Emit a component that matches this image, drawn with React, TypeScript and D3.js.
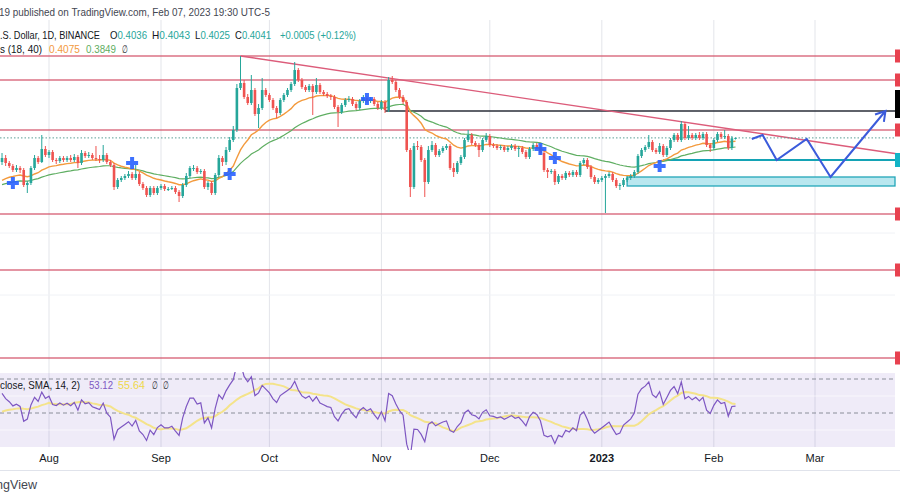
import React from "react";
import * as d3 from "d3";

const W = 900;
const H = 500;
const DAY = 86400000;

// Daily candles from 2022-07-19 to 2023-02-07
const firstDate = Date.UTC(2022, 6, 19);
const firstOpen = 0.38;
const closes = [
  0.384, 0.379, 0.376, 0.372, 0.374, 0.372, 0.357, 0.359, 0.374, 0.384,
  0.38, 0.393, 0.387, 0.39, 0.382, 0.381, 0.384, 0.382, 0.384, 0.382,
  0.385, 0.379, 0.389, 0.386, 0.387, 0.384, 0.383, 0.382, 0.387, 0.38,
  0.377, 0.355, 0.362, 0.364, 0.366, 0.368, 0.364, 0.368, 0.358, 0.354,
  0.347, 0.354, 0.349, 0.354, 0.356, 0.353, 0.353, 0.354, 0.35, 0.346,
  0.357, 0.366, 0.374, 0.374, 0.37, 0.371, 0.355, 0.359, 0.349, 0.367,
  0.384, 0.38, 0.392, 0.402, 0.412, 0.454, 0.459, 0.445, 0.439, 0.452,
  0.428, 0.434, 0.452, 0.447, 0.442, 0.434, 0.429, 0.442, 0.447, 0.452,
  0.458, 0.472, 0.462, 0.455, 0.452, 0.456, 0.45, 0.457, 0.45, 0.448,
  0.446, 0.445, 0.435, 0.43, 0.437, 0.442, 0.443, 0.438, 0.434, 0.441,
  0.444, 0.441, 0.443, 0.438, 0.434, 0.44, 0.432, 0.462, 0.46, 0.452,
  0.445, 0.44, 0.392, 0.355, 0.396, 0.395, 0.382, 0.36, 0.392, 0.397,
  0.387, 0.391, 0.394, 0.396, 0.374, 0.37, 0.379, 0.385, 0.402, 0.407,
  0.399, 0.397, 0.392, 0.402, 0.406, 0.397, 0.396, 0.394, 0.395, 0.392,
  0.394, 0.396, 0.393, 0.394, 0.39, 0.385, 0.393, 0.397, 0.395, 0.389,
  0.372, 0.37, 0.371, 0.36, 0.366, 0.364, 0.369, 0.367, 0.37, 0.367,
  0.379, 0.382, 0.375, 0.365, 0.36, 0.362, 0.364, 0.366, 0.368, 0.362,
  0.356, 0.357, 0.362, 0.364, 0.366, 0.37, 0.386, 0.392, 0.395, 0.4,
  0.392, 0.39, 0.396, 0.387, 0.394, 0.402, 0.407, 0.402, 0.418, 0.404,
  0.407, 0.404, 0.407, 0.404, 0.408, 0.397, 0.394, 0.402, 0.408, 0.405,
  0.406, 0.394, 0.4036, 0.4041,
];
const highs = [
  0.389, 0.387, 0.381, 0.378, 0.377, 0.376, 0.374, 0.361, 0.376, 0.387,
  0.386, 0.407, 0.396, 0.392, 0.392, 0.384, 0.386, 0.386, 0.386, 0.387,
  0.388, 0.387, 0.392, 0.391, 0.39, 0.389, 0.396, 0.387, 0.397, 0.389,
  0.382, 0.379, 0.364, 0.366, 0.368, 0.371, 0.37, 0.377, 0.37, 0.36,
  0.356, 0.356, 0.356, 0.356, 0.358, 0.358, 0.355, 0.356, 0.356, 0.352,
  0.359, 0.369, 0.376, 0.377, 0.376, 0.373, 0.373, 0.361, 0.361, 0.369,
  0.387, 0.386, 0.395, 0.405, 0.416, 0.458, 0.486, 0.462, 0.448, 0.467,
  0.454, 0.438, 0.464, 0.454, 0.449, 0.444, 0.436, 0.444, 0.449, 0.454,
  0.46, 0.48, 0.474, 0.464, 0.457, 0.458, 0.458, 0.464, 0.459, 0.452,
  0.45, 0.448, 0.447, 0.437, 0.439, 0.444, 0.446, 0.445, 0.44, 0.443,
  0.447, 0.446, 0.445, 0.445, 0.44, 0.442, 0.442, 0.465, 0.466, 0.462,
  0.454, 0.447, 0.442, 0.394, 0.399, 0.401, 0.397, 0.384, 0.396, 0.401,
  0.399, 0.393, 0.396, 0.398, 0.398, 0.379, 0.381, 0.387, 0.404, 0.412,
  0.409, 0.401, 0.399, 0.404, 0.409, 0.408, 0.399, 0.398, 0.397, 0.397,
  0.396, 0.398, 0.398, 0.396, 0.396, 0.392, 0.395, 0.399, 0.399, 0.397,
  0.391, 0.374, 0.373, 0.373, 0.368, 0.368, 0.371, 0.371, 0.372, 0.372,
  0.381, 0.384, 0.384, 0.377, 0.367, 0.364, 0.366, 0.368, 0.37, 0.37,
  0.364, 0.359, 0.364, 0.366, 0.368, 0.372, 0.388, 0.394, 0.397, 0.407,
  0.402, 0.394, 0.399, 0.398, 0.396, 0.404, 0.409, 0.409, 0.421, 0.42,
  0.416, 0.409, 0.409, 0.41, 0.41, 0.41, 0.399, 0.404, 0.41, 0.41,
  0.412, 0.408, 0.406, 0.4043,
];
const lows = [
  0.377, 0.376, 0.374, 0.37, 0.37, 0.369, 0.355, 0.349, 0.357, 0.372,
  0.378, 0.379, 0.385, 0.384, 0.38, 0.378, 0.379, 0.38, 0.38, 0.38,
  0.38, 0.374, 0.377, 0.384, 0.384, 0.382, 0.381, 0.379, 0.38, 0.378,
  0.375, 0.352, 0.353, 0.36, 0.362, 0.364, 0.362, 0.362, 0.356, 0.352,
  0.345, 0.345, 0.347, 0.347, 0.352, 0.351, 0.351, 0.352, 0.348, 0.34,
  0.344, 0.355, 0.364, 0.371, 0.368, 0.368, 0.353, 0.352, 0.347, 0.347,
  0.365, 0.376, 0.377, 0.39, 0.4, 0.41, 0.452, 0.443, 0.437, 0.437,
  0.426, 0.414, 0.432, 0.445, 0.44, 0.432, 0.424, 0.427, 0.44, 0.445,
  0.45, 0.456, 0.46, 0.453, 0.45, 0.45, 0.427, 0.448, 0.448, 0.446,
  0.444, 0.442, 0.433, 0.415, 0.428, 0.435, 0.44, 0.436, 0.432, 0.432,
  0.439, 0.439, 0.439, 0.436, 0.432, 0.432, 0.429, 0.43, 0.458, 0.45,
  0.443, 0.438, 0.39, 0.345, 0.353, 0.392, 0.38, 0.345, 0.358, 0.39,
  0.385, 0.385, 0.389, 0.392, 0.372, 0.365, 0.368, 0.377, 0.383, 0.4,
  0.397, 0.395, 0.385, 0.39, 0.4, 0.395, 0.394, 0.392, 0.392, 0.39,
  0.39, 0.392, 0.391, 0.385, 0.388, 0.383, 0.383, 0.391, 0.393, 0.387,
  0.37, 0.364, 0.368, 0.357, 0.358, 0.362, 0.362, 0.365, 0.365, 0.365,
  0.365, 0.377, 0.373, 0.363, 0.358, 0.358, 0.36, 0.329, 0.364, 0.36,
  0.354, 0.352, 0.355, 0.36, 0.362, 0.364, 0.368, 0.384, 0.39, 0.393,
  0.39, 0.388, 0.388, 0.385, 0.385, 0.392, 0.4, 0.4, 0.4, 0.402,
  0.402, 0.402, 0.402, 0.402, 0.402, 0.395, 0.39, 0.392, 0.4, 0.403,
  0.403, 0.392, 0.392, 0.4025,
];

// Axis ticks
const tickLabels = ["Aug", "Sep", "Oct", "Nov", "Dec", "2023", "Feb", "Mar"];
const tickDates = [
  Date.UTC(2022, 7, 1), Date.UTC(2022, 8, 1), Date.UTC(2022, 9, 1), Date.UTC(2022, 10, 1),
  Date.UTC(2022, 11, 1), Date.UTC(2023, 0, 1), Date.UTC(2023, 1, 1), Date.UTC(2023, 2, 1),
];

// Drawings
const redLevels = [0.486, 0.462, 0.412, 0.328, 0.272, 0.184];
const blackLevel = 0.431;
const blackStart = Date.UTC(2022, 10, 2);
const tealLevel = 0.382;
const tealStart = Date.UTC(2023, 0, 18);
const bandTop = 0.365;
const bandBottom = 0.356;
const bandStart = Date.UTC(2023, 0, 8);
const lastPrice = 0.4041;
const trendDates = [Date.UTC(2022, 8, 23), Date.UTC(2023, 2, 24)];
const trendPrices = [0.486, 0.388];
const projDays = [194.5, 197.5, 201.4, 209.7, 216.3, 231.5]; // days after Aug 1
const projPrices = [0.403, 0.407, 0.382, 0.403, 0.365, 0.431];
const crossIdx = [3, 36, 63, 101, 149, 153, 182];
const crossPrices = [0.359, 0.379, 0.368, 0.443, 0.393, 0.384, 0.376];

// Indicator settings
const fastLen = 18;
const slowLen = 40;
const fastSeed = 0.359;
const slowSeed = 0.356;
const rsiLen = 14;
const rsiGainSeed = 0.0045;
const rsiLossSeed = 0.003;
const rsiMaLen = 14;
const rsiPriorSeed = 50;

const GREEN = "#26a69a";
const RED = "#ef5350";
const LEVEL = "#d65a6f";
const DARK = "#131722";
const ORANGE = "#f39a3d";
const MAGREEN = "#5fae62";
const PURPLE = "#7e57c2";
const YELLOW = "#eed84a";

// Legend texts: [label, value, x, width, value colour]
const headerLine2: [string, string, number, number, string][] = [
  [".S. Dollar, 1D, BINANCE", "", 0, 100, DARK],
  ["O", "0.4036", 110, 37, GREEN],
  ["H", "0.4043", 152, 38, GREEN],
  ["L", "0.4025", 195, 35, GREEN],
  ["C", "0.4041", 235, 36, GREEN],
  ["", "+0.0005 (+0.12%)", 280, 76, GREEN],
];
const headerLine3: [string, string, number, number, string][] = [
  ["s (18, 40)", "", 0, 42, DARK],
  ["", "0.4075", 49, 31, ORANGE],
  ["", "0.3849", 86, 30, MAGREEN],
  ["∅", "", 122, 6, DARK],
];
const rsiLegend: [string, string, number, number, string][] = [
  ["close, SMA, 14, 2)", "", 0, 80, DARK],
  ["", "53.12", 89, 24, PURPLE],
  ["", "55.64", 118, 27, YELLOW],
  ["∅", "", 152, 6, DARK],
  ["∅", "", 163, 6, DARK],
];

function ema(vals: number[], len: number, seed: number) {
  const a = 2 / (len + 1);
  let e = seed;
  return vals.map((v) => (e = e + a * (v - e)));
}

export default function App() {
  const x = d3
    .scaleUtc()
    .domain([new Date(Date.UTC(2022, 7, 1)), new Date(Date.UTC(2023, 2, 1))])
    .range([49, 815]);
  const y = d3.scaleLinear().domain([0.174, 0.52]).range([368, 22]);
  const rsiY = d3.scaleLinear().domain([30, 70]).range([447, 379]);

  const candles = closes.map((c, i) => ({
    date: new Date(firstDate + i * DAY),
    open: i === 0 ? firstOpen : closes[i - 1],
    high: highs[i],
    low: lows[i],
    close: c,
  }));

  const fast = ema(closes, fastLen, fastSeed);
  const slow = ema(closes, slowLen, slowSeed);

  // RSI (Wilder)
  let ag = rsiGainSeed;
  let al = rsiLossSeed;
  const rsi = closes.map((c, i) => {
    const prev = i === 0 ? firstOpen : closes[i - 1];
    const ch = c - prev;
    ag = (ag * (rsiLen - 1) + Math.max(ch, 0)) / rsiLen;
    al = (al * (rsiLen - 1) + Math.max(-ch, 0)) / rsiLen;
    return 100 - 100 / (1 + ag / al);
  });
  const rsiMa = rsi.map((_, i) => {
    let s = 0;
    for (let k = i - rsiMaLen + 1; k <= i; k++) s += k < 0 ? rsiPriorSeed : rsi[k];
    return s / rsiMaLen;
  });

  const lineGen = d3
    .line<number>()
    .x((_, i) => x(candles[i].date))
    .y((v) => y(v));
  const rsiLine = d3
    .line<number>()
    .x((_, i) => x(candles[i].date))
    .y((v) => rsiY(v));

  const projPts: [number, number][] = projDays.map((d, i) => [
    x(new Date(Date.UTC(2022, 7, 1) + d * DAY)),
    y(projPrices[i]),
  ]);
  const tip = projPts[projPts.length - 1];
  const prevPt = projPts[projPts.length - 2];
  const ang = Math.atan2(tip[1] - prevPt[1], tip[0] - prevPt[0]);
  const ah = 11;
  const a1: [number, number] = [tip[0] - ah * Math.cos(ang - 0.55), tip[1] - ah * Math.sin(ang - 0.55)];
  const a2: [number, number] = [tip[0] - ah * Math.cos(ang + 0.55), tip[1] - ah * Math.sin(ang + 0.55)];

  const rightEnd = 895;
  const bw = 2.6;
  const font = "'Liberation Sans', Arial, sans-serif";

  const fitted = (items: [string, string, number, number, string][], yy: number, prefix: string) =>
    items.map(([label, value, tx, tw, col], i) => (
      <text
        key={prefix + i}
        x={tx}
        y={yy}
        fontSize={10.5}
        fill={label ? DARK : col}
        textLength={tw}
        lengthAdjust="spacingAndGlyphs"
      >
        {label}
        {value ? <tspan fill={col}>{value}</tspan> : null}
      </text>
    ));

  return (
    <svg
      width={W}
      height={H}
      viewBox={`0 0 ${W} ${H}`}
      style={{ position: "absolute", left: 0, top: 0, background: "#fff", fontFamily: font }}
    >
      <rect x={0} y={0} width={W} height={H} fill="#fff" />
      {/* vertical grid */}
      {tickDates.map((d, i) => (
        <line key={"vg" + i} x1={x(new Date(d))} x2={x(new Date(d))} y1={20} y2={447} stroke="#e3e5ea" strokeWidth={1} />
      ))}
      {[0.309, 0.247].map((p, i) => (
        <line key={"hg" + i} x1={0} x2={rightEnd} y1={y(p)} y2={y(p)} stroke="#f0f2f6" strokeWidth={1} />
      ))}

      {/* band */}
      <rect
        x={x(new Date(bandStart))}
        y={y(bandTop)}
        width={rightEnd - x(new Date(bandStart))}
        height={y(bandBottom) - y(bandTop)}
        fill="#b9e7ef"
        stroke="#22a6b8"
        strokeWidth={1.3}
      />
      {/* red levels */}
      {redLevels.map((p, i) => (
        <line key={"rl" + i} x1={0} x2={rightEnd} y1={y(p)} y2={y(p)} stroke={LEVEL} strokeWidth={1.5} opacity={0.85} />
      ))}
      <line x1={x(new Date(blackStart))} x2={rightEnd} y1={y(blackLevel)} y2={y(blackLevel)} stroke="#2a2e39" strokeWidth={1.3} />
      <line x1={x(new Date(tealStart))} x2={rightEnd} y1={y(tealLevel)} y2={y(tealLevel)} stroke="#14a3b5" strokeWidth={2} />
      {/* trend line */}
      <line
        x1={x(new Date(trendDates[0]))}
        y1={y(trendPrices[0])}
        x2={x(new Date(trendDates[1]))}
        y2={y(trendPrices[1])}
        stroke="#dc5c7a"
        strokeWidth={1.4}
      />
      {/* last price dotted */}
      <line x1={0} x2={rightEnd} y1={y(lastPrice)} y2={y(lastPrice)} stroke="#5b9e95" strokeWidth={1} strokeDasharray="1.5 2" />

      {/* moving averages */}
      <path d={lineGen(slow) || ""} fill="none" stroke={MAGREEN} strokeWidth={1.2} />
      <path d={lineGen(fast) || ""} fill="none" stroke={ORANGE} strokeWidth={1.4} />

      {/* candles */}
      {candles.map((c, i) => {
        const cx = x(c.date);
        const up = c.close >= c.open;
        const col = up ? GREEN : RED;
        const top = y(Math.max(c.open, c.close));
        const bot = y(Math.min(c.open, c.close));
        return (
          <g key={"c" + i}>
            <line x1={cx} x2={cx} y1={y(c.high)} y2={y(c.low)} stroke={col} strokeWidth={1} />
            <rect x={cx - bw / 2} y={top} width={bw} height={Math.max(1, bot - top)} fill={col} />
          </g>
        );
      })}

      {/* cross markers */}
      {crossIdx.map((idx, i) => {
        const cx = x(candles[idx].date);
        const cy = y(crossPrices[i]);
        return (
          <path
            key={"x" + i}
            d={`M${cx - 6},${cy}H${cx + 6}M${cx},${cy - 6}V${cy + 6}`}
            stroke="#2962ff"
            strokeWidth={4}
            opacity={0.9}
          />
        );
      })}

      {/* projection */}
      <path d={d3.line()(projPts) || ""} fill="none" stroke="#3b5bdb" strokeWidth={2} strokeLinejoin="miter" />
      <path d={`M${a1[0]},${a1[1]}L${tip[0]},${tip[1]}L${a2[0]},${a2[1]}`} fill="none" stroke="#3b5bdb" strokeWidth={2} />

      {/* right edge labels */}
      {redLevels.map((p, i) => (
        <rect key={"rb" + i} x={895} y={y(p) - 6.5} width={6} height={13} fill="#e8414f" />
      ))}
      <rect x={895} y={90} width={6} height={28} fill="#000" />
      <rect x={895} y={y(tealLevel) - 7} width={6} height={14} fill="#13b4c6" />

      {/* RSI pane */}
      <rect x={0} y={rsiY(73.5)} width={rightEnd} height={rsiY(30) - rsiY(73.5)} fill={PURPLE} opacity={0.12} />
      {[60, 40].map((v) => (
        <line key={"rg" + v} x1={0} x2={rightEnd} y1={rsiY(v)} y2={rsiY(v)} stroke="#ffffff" strokeOpacity={0.6} strokeWidth={1} />
      ))}
      {[70, 50].map((v) => (
        <line key={"rd" + v} x1={0} x2={rightEnd} y1={rsiY(v)} y2={rsiY(v)} stroke="#8a8e99" strokeWidth={1} strokeDasharray="4 3" />
      ))}
      <clipPath id="rsiclip">
        <rect x={0} y={372} width={W} height={78} />
      </clipPath>
      <g clipPath="url(#rsiclip)">
        <path d={rsiLine(rsiMa) || ""} fill="none" stroke="#f4e38a" strokeWidth={2} />
        <path d={rsiLine(rsi) || ""} fill="none" stroke={PURPLE} strokeWidth={1.2} />
      </g>
      {fitted(rsiLegend, 389, "rl")}

      {/* time axis */}
      {tickLabels.map((t, i) => (
        <text
          key={"tl" + i}
          x={x(new Date(tickDates[i]))}
          y={462}
          fontSize={11}
          textAnchor="middle"
          fill={DARK}
          fontWeight={t === "2023" ? "bold" : "normal"}
        >
          {t}
        </text>
      ))}
      <line x1={0} x2={W} y1={470.5} y2={470.5} stroke="#e0e3eb" strokeWidth={1} />
      <text x={-32} y={489} fontSize={12} fill="#434651" textLength={69} lengthAdjust="spacingAndGlyphs">
        TradingView
      </text>

      {/* header */}
      <text x={-1} y={16} fontSize={11.5} fill="#434651" textLength={271} lengthAdjust="spacingAndGlyphs">
        19 published on TradingView.com, Feb 07, 2023 19:30 UTC-5
      </text>
      {fitted(headerLine2, 39, "h2")}
      {fitted(headerLine3, 53, "h3")}
    </svg>
  );
}
